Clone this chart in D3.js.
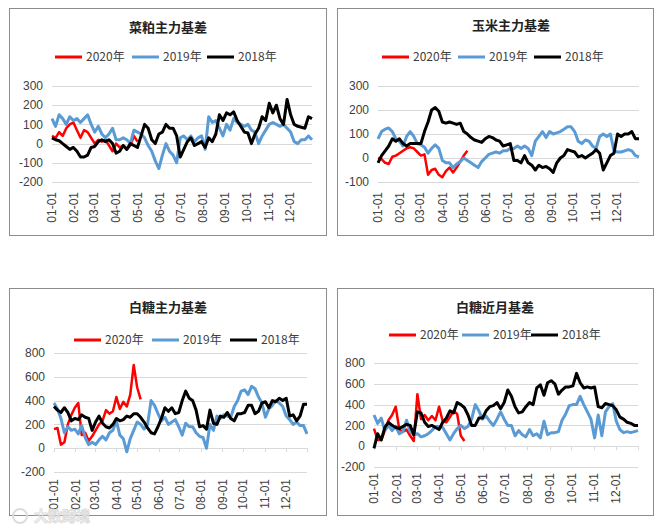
<!DOCTYPE html>
<html>
<head>
<meta charset="utf-8">
<script src="https://cdn.jsdelivr.net/npm/d3@7"></script>
<style>
  body { margin: 0; background: #fff; }
  text { font-family: "Liberation Sans", Arial, sans-serif; }
  .cjk { font-family: "Noto Sans CJK SC", "Liberation Sans", sans-serif; }
</style>
</head>
<body>
<svg id="svg_id" width="670" height="529"></svg>
<script>
// month tick labels and their day-of-year
var monthLabels = ["01-01","02-01","03-01","04-01","05-01","06-01","07-01","08-01","09-01","10-01","11-01","12-01"];
var monthDays = [0,31,59,90,120,151,181,212,243,273,304,334];
var seriesNames = ["2020年","2019年","2018年"];
var step = 5; // one value every 5 days

// 菜粕主力基差
var cp2020 = [40,30,60,40,80,100,110,70,30,70,60,30,0,20,10,20,-10,-40,0,-20,-10,-30,-10,40,10];
var cp2019 = [130,90,150,130,100,140,120,130,110,130,150,100,60,90,50,30,50,80,20,20,30,20,0,70,60,50,30,-10,-40,-90,-130,-60,0,-40,-60,-100,30,40,20,40,10,30,40,-30,140,110,120,80,40,100,70,130,110,100,90,100,70,60,0,40,70,100,110,100,90,100,80,60,10,0,20,20,40,20];
var cp2018 = [30,20,15,0,-15,-30,-20,-40,-70,-70,-60,-20,-15,10,20,10,20,0,-50,-40,-10,-30,0,-10,-20,40,100,80,20,0,50,60,100,80,80,40,-70,-30,10,30,-10,0,10,-20,30,10,50,150,120,160,150,165,120,90,60,55,0,50,80,140,120,210,160,200,130,100,230,150,100,90,85,80,140,130];

// 玉米主力基差
var ym2020 = [0,-5,-20,-25,5,10,20,30,40,45,40,25,10,15,-70,-50,-45,-70,-80,-55,-40,-60,-40,-15,10,30];
var ym2019 = [80,110,120,125,110,80,70,50,90,110,90,60,55,45,20,40,55,40,-10,-20,-20,-40,-25,-15,0,-10,-20,-30,-40,-15,0,15,20,25,20,30,30,40,40,50,40,50,40,10,70,90,110,85,110,100,105,110,120,130,130,110,70,60,75,70,50,40,90,100,90,100,30,25,25,30,35,30,10,5];
var ym2018 = [-20,10,30,50,80,70,80,60,50,60,60,60,60,110,150,200,210,195,150,145,150,145,140,145,110,100,85,75,70,65,80,90,85,75,70,50,55,60,-10,-10,-20,10,-20,-30,-50,-30,-40,-35,-45,-60,-20,0,10,35,30,25,5,10,0,10,20,35,20,-50,-20,10,20,100,90,100,100,110,80,80];

// 白糖主力基差
var bt2020 = [160,170,30,50,200,280,340,380,110,130,60,100,150,200,230,320,290,310,430,330,390,350,450,700,510,410];
var bt2019 = [380,330,250,130,180,150,160,120,190,90,30,50,30,70,100,70,130,150,230,110,80,-30,80,150,220,200,160,200,400,360,290,230,260,200,220,240,180,110,210,180,180,130,100,90,0,200,150,270,250,280,270,260,350,400,480,490,450,520,500,430,380,260,330,360,400,380,350,270,240,200,220,190,190,120];
var bt2018 = [350,320,300,340,300,230,250,240,280,260,250,150,220,270,210,180,170,200,250,230,240,270,260,290,290,260,220,170,130,120,180,250,340,310,340,290,300,400,480,420,400,320,180,190,160,320,210,200,270,260,300,250,230,290,290,300,360,360,290,310,380,390,340,400,390,420,400,420,270,280,230,270,370,370];

// 白糖近月基差
var bj2020 = [170,60,60,150,250,300,380,160,140,160,100,50,500,260,300,250,290,250,380,240,230,280,340,310,100,50];
var bj2019 = [300,220,270,150,200,150,190,120,140,250,140,110,120,90,100,120,150,190,190,180,120,60,120,170,200,170,190,260,400,340,260,290,240,200,260,330,260,200,200,100,150,110,90,160,100,120,80,240,110,130,130,140,250,310,390,400,400,480,400,330,260,80,300,100,330,380,410,240,160,130,140,130,140,150];
var bj2018 = [-20,120,60,180,230,200,180,170,190,210,200,110,330,320,230,190,200,180,160,230,270,340,320,420,400,370,300,200,200,270,270,340,380,390,420,360,420,540,480,380,320,330,380,420,400,560,590,490,610,630,600,500,540,570,570,580,700,610,560,570,560,570,380,370,410,400,390,350,280,260,230,220,200,200];

var colors = ["#ff0000", "#5b9bd5", "#000000"];
var widths = [2.5, 3, 3];

var panels = [
  { title: "菜粕主力基差", series: [cp2020, cp2019, cp2018], yTicks: [-200,-100,0,100,200,300],
    box: [9, 8, 326, 235], titleXY: [168, 27], legendY: 57, legendX: [55, 132, 207],
    xr: [52, 312], yr: [182, 86], ticks: false, labelTop: 192 },
  { title: "玉米主力基差", series: [ym2020, ym2019, ym2018], yTicks: [-100,0,100,200,300],
    box: [337, 8, 653, 235], titleXY: [511, 25], legendY: 57, legendX: [382, 458, 534],
    xr: [378, 639], yr: [182, 86], ticks: false, labelTop: 192 },
  { title: "白糖主力基差", series: [bt2020, bt2019, bt2018], yTicks: [-200,0,200,400,600,800],
    box: [9, 288, 326, 515], titleXY: [168, 307], legendY: 340, legendX: [74, 152, 230],
    xr: [54, 307], yr: [472, 353], ticks: true, labelTop: 479 },
  { title: "白糖近月基差", series: [bj2020, bj2019, bj2018], yTicks: [-200,0,200,400,600,800],
    box: [337, 288, 653, 515], titleXY: [495, 307], legendY: 335, legendX: [389, 462, 531],
    xr: [374, 638], yr: [467, 363], ticks: true, labelTop: 473 }
];

var svg = d3.select("#svg_id");

panels.forEach(function(p)
{
  var g = svg.append("g");

  g.append("rect")
    .attr("x", p.box[0] + 0.5).attr("y", p.box[1] + 0.5)
    .attr("width", p.box[2] - p.box[0]).attr("height", p.box[3] - p.box[1])
    .attr("fill", "#fff").attr("stroke", "#8c8c8c").attr("stroke-width", 1);

  var x = d3.scaleLinear().domain([0, 365]).range(p.xr);
  var y = d3.scaleLinear().domain([p.yTicks[0], p.yTicks[p.yTicks.length - 1]]).range(p.yr);

  // gridlines
  g.selectAll(".grid").data(p.yTicks).enter().append("line")
    .attr("x1", p.xr[0]).attr("x2", p.xr[1])
    .attr("y1", function(d) { return Math.round(y(d)) + 0.5; })
    .attr("y2", function(d) { return Math.round(y(d)) + 0.5; })
    .attr("stroke", "#d9d9d9").attr("stroke-width", 1);

  // y labels
  g.selectAll(".ylab").data(p.yTicks).enter().append("text")
    .attr("x", p.xr[0] - 9).attr("y", function(d) { return y(d); })
    .attr("dy", "0.35em").attr("text-anchor", "end")
    .attr("font-size", 12).attr("fill", "#404040")
    .text(function(d) { return d; });

  // tick marks on the zero line
  if (p.ticks)
  {
    g.selectAll(".tick").data(monthDays.concat([365])).enter().append("line")
      .attr("x1", function(d) { return Math.round(x(d)) + 0.5; })
      .attr("x2", function(d) { return Math.round(x(d)) + 0.5; })
      .attr("y1", y(0)).attr("y2", y(0) + 4)
      .attr("stroke", "#d9d9d9").attr("stroke-width", 1);
  }

  // x labels, rotated
  g.selectAll(".xlab").data(monthLabels).enter().append("text")
    .attr("transform", function(d, i) { return "translate(" + x(monthDays[i]) + "," + p.labelTop + ") rotate(-90)"; })
    .attr("text-anchor", "end").attr("dy", "0.35em")
    .attr("font-size", 12).attr("fill", "#404040")
    .text(function(d) { return d; });

  // series
  var line = d3.line()
    .x(function(d, i) { return x(i * step); })
    .y(function(d) { return y(d); });

  p.series.forEach(function(s, k)
  {
    g.append("path")
      .datum(s)
      .attr("d", line)
      .attr("fill", "none")
      .attr("stroke", colors[k])
      .attr("stroke-width", widths[k])
      .attr("stroke-linejoin", "round");
  });

  // title
  g.append("text").attr("class", "cjk")
    .attr("x", p.titleXY[0]).attr("y", p.titleXY[1])
    .attr("dy", "0.35em").attr("text-anchor", "middle")
    .attr("font-size", 13).attr("font-weight", "bold").attr("fill", "#222")
    .text(p.title);

  // legend
  seriesNames.forEach(function(name, k)
  {
    var lx = p.legendX[k];
    g.append("line")
      .attr("x1", lx).attr("x2", lx + 27)
      .attr("y1", p.legendY).attr("y2", p.legendY)
      .attr("stroke", colors[k]).attr("stroke-width", 3);
    g.append("text").attr("class", "cjk")
      .attr("x", lx + 31).attr("y", p.legendY)
      .attr("dy", "0.35em")
      .attr("font-size", 12).attr("fill", "#404040")
      .text(name);
  });
});

// faint watermark
svg.append("text").attr("class", "cjk")
  .attr("x", 34).attr("y", 521)
  .attr("font-size", 14).attr("font-weight", "bold")
  .attr("fill", "none").attr("stroke", "#dcdcdc").attr("stroke-width", 1)
  .text("大数跨境");
svg.append("circle")
  .attr("cx", 20).attr("cy", 516).attr("r", 7)
  .attr("fill", "none").attr("stroke", "#dcdcdc").attr("stroke-width", 2);
</script>
</body>
</html>
